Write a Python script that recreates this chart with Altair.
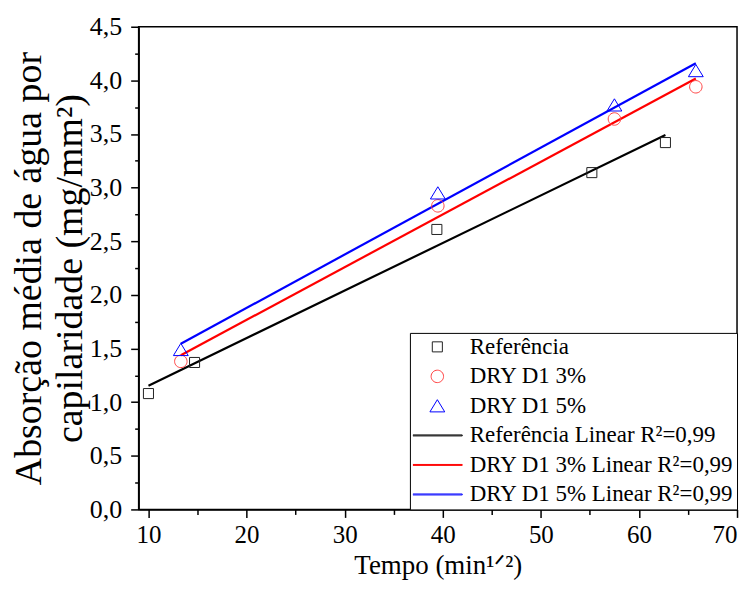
import altair as alt
import pandas as pd

# ---- data ----
ref_x = [10.0, 14.7, 39.4, 55.2, 62.7]
ref_y = [1.08, 1.37, 2.61, 3.14, 3.42]
d3_x = [13.3, 39.5, 57.5, 65.8]
d3_y = [1.38, 2.83, 3.64, 3.94]
d5_x = [13.3, 39.5, 57.5, 65.8]
d5_y = [1.49, 2.95, 3.77, 4.09]

point_names = ["Referência", "DRY D1 3%", "DRY D1 5%"]
fit_suffix = " Linear R²=0,99"
line_names = [n + fit_suffix for n in point_names]
all_names = point_names + line_names

colors = ["#222222", "#ff4040", "#0000ff", "#000000", "#ff0000", "#0000ff"]
shape_square = "M-0.21,-0.21H0.21V0.21H-0.21Z"
shape_circle = "M0.26,0A0.26,0.26,0,1,1,-0.26,0A0.26,0.26,0,1,1,0.26,0Z"
shape_triangle = "M0,-0.26L0.31,0.25L-0.31,0.25Z"
shape_line = "M-1.04,-0.02H1.04V0.02H-1.04Z"
shapes = [shape_square, shape_circle, shape_triangle, shape_line, shape_line, shape_line]
stroke_widths = [1, 1, 1, 2, 2, 2]

x_major = [10, 20, 30, 40, 50, 60, 70]
x_minor = [15, 25, 35, 45, 55, 65]
y_major = [0, 0.5, 1.0, 1.5, 2.0, 2.5, 3.0, 3.5, 4.0, 4.5]
y_minor = [0.25, 0.75, 1.25, 1.75, 2.25, 2.75, 3.25, 3.75, 4.25]

rows = []
for name, xs, ys in zip(point_names, [ref_x, d3_x, d5_x], [ref_y, d3_y, d5_y]):
    for a, b in zip(xs, ys):
        rows.append({"serie": name, "x": a, "y": b})
df = pd.DataFrame(rows)

FONT = "Liberation Serif"

x_scale = alt.Scale(domain=[9, 70], nice=False, zero=False)
y_scale = alt.Scale(domain=[0, 4.5], nice=False)

x_enc = alt.X(
    "x:Q",
    scale=x_scale,
    axis=alt.Axis(
        values=x_major,
        format="d",
        tickSize=8,
        title="Tempo (min¹ᐟ²)",
        titleFontSize=27,
        labelFont=FONT,
        labelFontSize=25,
        titleFont=FONT,
        labelPadding=5,
        titlePadding=5,
        orient="bottom",
    ),
)
y_enc = alt.Y(
    "y:Q",
    scale=y_scale,
    axis=alt.Axis(
        values=y_major,
        format=".1f",
        tickSize=8,
        title=["Absorção média de água por", "capilaridade (mg/mm²)"],
        titleFontSize=38,
        titleLineHeight=41,
        labelFont=FONT,
        labelFontSize=26,
        titleFont=FONT,
        labelPadding=9,
        titlePadding=0,
        orient="left",
    ),
)

legend = alt.Legend(
    title=None,
    orient="bottom-right",
    offset=0,
    padding=3,
    symbolSize=2304,
    symbolOffset=0,
    symbolStrokeWidth=1,
    labelOffset=8,
    labelFont=FONT,
    labelFontSize=23,
    labelColor="black",
    labelLimit=400,
    clipHeight=22,
    rowPadding=6.6,
    strokeColor="black",
    fillColor="white",
)

color_scale = alt.Scale(domain=all_names, range=colors)
shape_scale = alt.Scale(domain=all_names, range=shapes)
sw_scale = alt.Scale(domain=all_names, range=stroke_widths)

base = alt.Chart(df)

points = base.mark_point(filled=False, size=2304, opacity=1).encode(
    x=x_enc,
    y=y_enc,
    color=alt.Color("serie:N", scale=color_scale, legend=legend),
    shape=alt.Shape("serie:N", scale=shape_scale, legend=legend),
    strokeWidth=alt.StrokeWidth("serie:N", scale=sw_scale, legend=legend),
)

lines = (
    base.transform_regression("x", "y", groupby=["serie"])
    .transform_calculate(serie=f"datum.serie + '{fit_suffix}'")
    .mark_line(strokeWidth=2.2)
    .encode(
        x=x_enc,
        y=y_enc,
        color=alt.Color("serie:N", scale=color_scale, legend=legend),
    )
)

# invisible layer that only carries the minor-tick axes
minor = base.mark_point(opacity=0).encode(
    x=alt.X(
        "x:Q",
        scale=x_scale,
        axis=alt.Axis(values=x_minor, labels=False, tickSize=5, domain=False,
                      title=None, orient="bottom"),
    ),
    y=alt.Y(
        "y:Q",
        scale=y_scale,
        axis=alt.Axis(values=y_minor, labels=False, tickSize=4, domain=False,
                      title=None, orient="left"),
    ),
)

main = alt.layer(lines, points)

chart = (
    alt.layer(main, minor)
    .resolve_axis(x="independent", y="independent")
    .properties(
        width=600,
        height=484,
        autosize=alt.AutoSizeParams(type="none"),
        padding={"left": 131, "top": 18, "right": 10, "bottom": 72},
        background="white",
    )
    .configure(
        font=FONT,
        locale={"number": {"decimal": ",", "thousands": ".", "grouping": [3], "currency": ["", ""]}},
    )
    .configure_view(stroke="black", strokeWidth=1.5)
    .configure_axis(
        labelFont=FONT,
        titleFont=FONT,
        labelColor="black",
        titleColor="black",
        titleFontWeight="normal",
        domainColor="black",
        domainWidth=1.5,
        tickColor="black",
        tickWidth=1.5,
        grid=False,
        labelOverlap=False,
    )
)

chart.save("out.html", embed_options={"renderer": "svg", "actions": False})
